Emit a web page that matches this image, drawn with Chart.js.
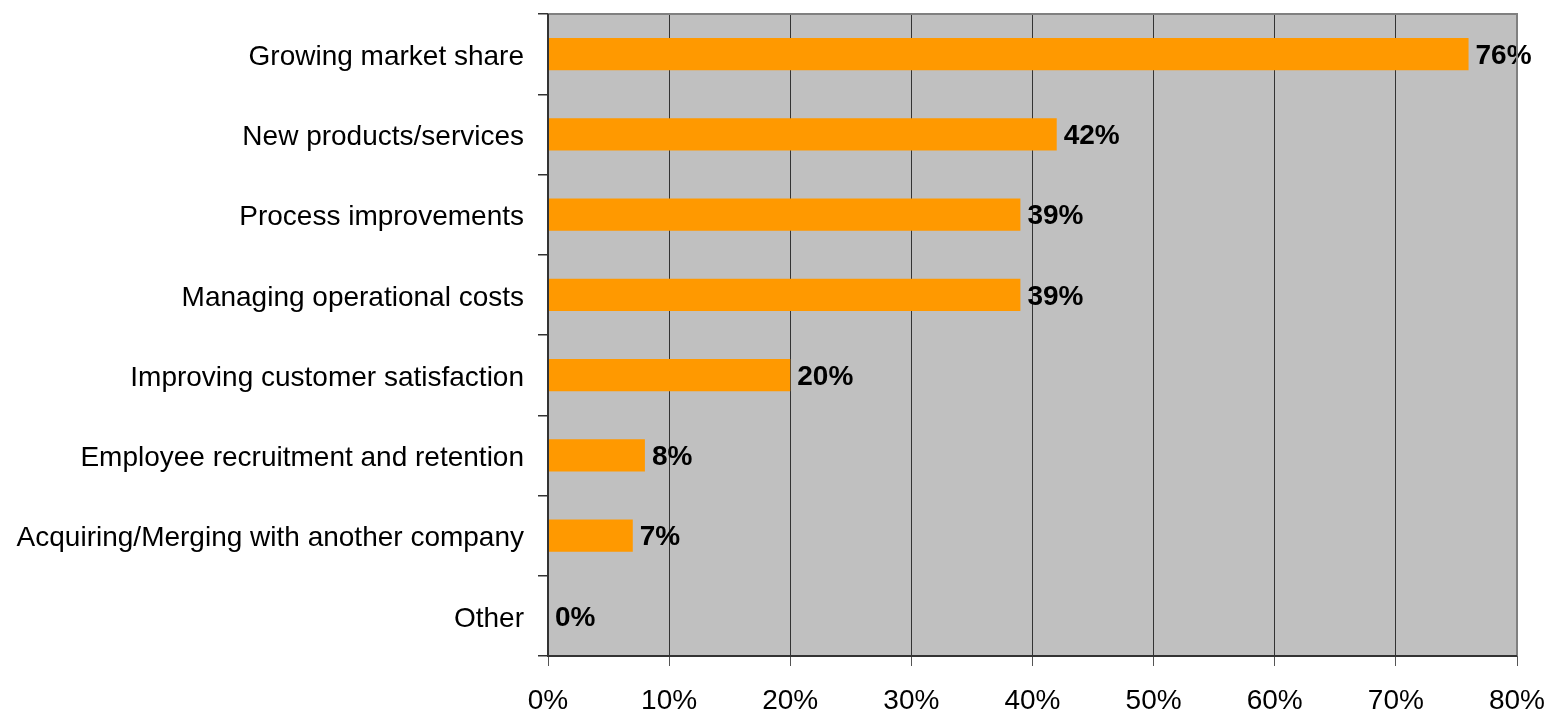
<!DOCTYPE html>
<html>
<head>
<meta charset="utf-8">
<script src="https://cdn.jsdelivr.net/npm/chart.js@4"></script>
<style>
  html, body { margin: 0; padding: 0; background: #fff; }
  #wrap { width: 1549px; height: 713px; }
</style>
</head>
<body>
<div id="wrap"><canvas id="chart" width="1549" height="713"></canvas></div>
<script>
// data
const categories = [
  'Growing market share',
  'New products/services',
  'Process improvements',
  'Managing operational costs',
  'Improving customer satisfaction',
  'Employee recruitment and retention',
  'Acquiring/Merging with another company',
  'Other'
];
const shares = [76, 42, 39, 39, 20, 8, 7, 0];
const xMin = 0, xMax = 80, xStep = 10;

const FONT = 'Liberation Sans, Arial, sans-serif';

// gray plot background + frame
const plotBg = {
  id: 'plotBg',
  beforeDraw(chart) {
    const {ctx, chartArea: a} = chart;
    ctx.save();
    ctx.fillStyle = '#c0c0c0';
    ctx.fillRect(a.left, a.top, a.right - a.left, a.bottom - a.top);
    ctx.restore();
  },
  afterDraw(chart) {
    const {ctx, chartArea: a} = chart;
    ctx.save();
    ctx.strokeStyle = '#808080';
    ctx.lineWidth = 2;
    ctx.beginPath();
    ctx.moveTo(a.left, a.top);
    ctx.lineTo(a.right, a.top);
    ctx.lineTo(a.right, a.bottom);
    ctx.stroke();
    // left and bottom axis lines
    ctx.strokeStyle = '#333';
    ctx.beginPath();
    ctx.moveTo(a.left, a.top);
    ctx.lineTo(a.left, a.bottom);
    ctx.lineTo(a.right, a.bottom);
    ctx.stroke();
    ctx.restore();
  }
};

// bold value labels right of each bar
const valueLabels = {
  id: 'valueLabels',
  afterDatasetsDraw(chart) {
    const {ctx} = chart;
    const meta = chart.getDatasetMeta(0);
    ctx.save();
    ctx.font = 'bold 28px ' + FONT;
    ctx.fillStyle = '#000';
    ctx.textAlign = 'left';
    ctx.textBaseline = 'middle';
    meta.data.forEach((bar, i) => {
      ctx.fillText(shares[i] + '%', bar.x + 7, bar.y + 2);
    });
    ctx.restore();
  }
};

new Chart(document.getElementById('chart'), {
  type: 'bar',
  data: {
    labels: categories,
    datasets: [{
      data: shares,
      backgroundColor: '#ff9900',
      borderWidth: 0,
      barPercentage: 0.4,
      categoryPercentage: 1.0
    }]
  },
  options: {
    indexAxis: 'y',
    responsive: false,
    animation: false,
    layout: { padding: { top: 14, right: 32, bottom: 0, left: 0 } },
    plugins: { legend: { display: false }, tooltip: { enabled: false } },
    scales: {
      x: {
        min: xMin, max: xMax,
        border: { display: false },
        grid: { color: '#333', lineWidth: 1, tickLength: 10, tickColor: '#555' },
        ticks: {
          stepSize: xStep,
          padding: 18,
          color: '#000',
          font: { family: FONT, size: 28 },
          callback: v => v + '%'
        },
        afterFit(scale) {
          scale.height = 57;
          scale.paddingLeft = 0;
          scale.paddingRight = 0;
        }
      },
      y: {
        border: { display: false },
        grid: { drawOnChartArea: false, offset: true, tickLength: 10, tickColor: '#333', lineWidth: 1.5 },
        ticks: {
          padding: 14,
          labelOffset: 3,
          color: '#000',
          autoSkip: false,
          font: { family: FONT, size: 28 }
        },
        afterFit(scale) {
          scale.width = 548;
          scale.paddingTop = 0;
          scale.paddingBottom = 0;
        }
      }
    }
  },
  plugins: [plotBg, valueLabels]
});
</script>
</body>
</html>
